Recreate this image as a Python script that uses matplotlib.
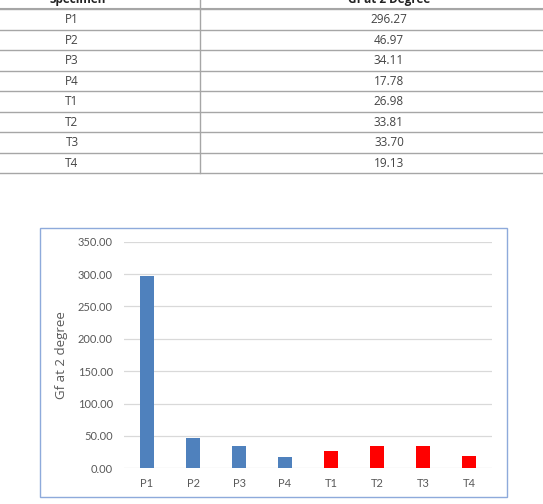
import matplotlib.pyplot as plt
from matplotlib.patches import Rectangle

specimens = ["P1", "P2", "P3", "P4", "T1", "T2", "T3", "T4"]
gf_values = [296.27, 46.97, 34.11, 17.78, 26.98, 33.81, 33.70, 19.13]
bar_colors = ["#4F81BD"] * 4 + ["#FF0000"] * 4
header = ["Specimen", "Gf at 2 Degree"]
y_ticks = [0, 50, 100, 150, 200, 250, 300, 350]

W, H = 543, 504
fig = plt.figure(figsize=(W / 100, H / 100), dpi=100)

# table drawn in pixel coordinates
tab = fig.add_axes([0, 0, 1, 1])
tab.set_xlim(0, W)
tab.set_ylim(H, 0)
tab.axis("off")

row_top = 9.3
row_h = 20.5
line_col = "#A6A6A6"
tab.plot([0, W], [row_top - 1, row_top - 1], color=line_col, lw=0.8)
for i in range(len(specimens) + 1):
    y = row_top + i * row_h
    tab.plot([0, W], [y, y], color=line_col, lw=1.0)
tab.plot([200, 200], [0, row_top + len(specimens) * row_h], color=line_col, lw=1.0)

tab.text(78, 3.5, header[0], ha="center", va="baseline", fontsize=8.5,
         fontweight="bold", family="Open Sans", color="#222222")
tab.text(389, 3.5, header[1], ha="center", va="baseline", fontsize=8.5,
         fontweight="bold", family="Open Sans", color="#222222")
for i, (s, v) in enumerate(zip(specimens, gf_values)):
    yc = row_top + (i + 0.5) * row_h
    tab.text(72, yc, s, ha="center", va="center", fontsize=8.5,
             family="Open Sans", color="#444444")
    tab.text(389, yc, f"{v:.2f}", ha="center", va="center", fontsize=8.5,
             family="Open Sans", color="#444444")

# chart border
tab.add_patch(Rectangle((40, 228), 467, 269, fill=False, ec="#8EAADB", lw=1.0))

# bar chart
ax = fig.add_axes([124 / W, (H - 468.3) / H, 368 / W, 226.6 / H])
x = range(len(specimens))
ax.bar(x, gf_values, width=0.32, color=bar_colors, zorder=3)
ax.set_xlim(-0.5, len(specimens) - 0.5)
ax.set_ylim(0, 350)
ax.set_yticks(y_ticks)
ax.set_yticklabels([f"{t:.2f}" for t in y_ticks])
ax.set_xticks(list(x))
ax.set_xticklabels(specimens)
ax.grid(axis="y", color="#D9D9D9", lw=0.9, zorder=0)
ax.tick_params(length=0, labelsize=8, colors="#595959")
ax.tick_params(axis="y", pad=8)
ax.tick_params(axis="x", pad=7)
for lab in ax.get_xticklabels() + ax.get_yticklabels():
    lab.set_family("Lato")
for sp in ax.spines.values():
    sp.set_visible(False)
ax.set_ylabel("Gf at 2 degree", fontsize=9.5, color="#595959", family="Open Sans",
              labelpad=7)

fig.savefig("out.png", dpi=100)
